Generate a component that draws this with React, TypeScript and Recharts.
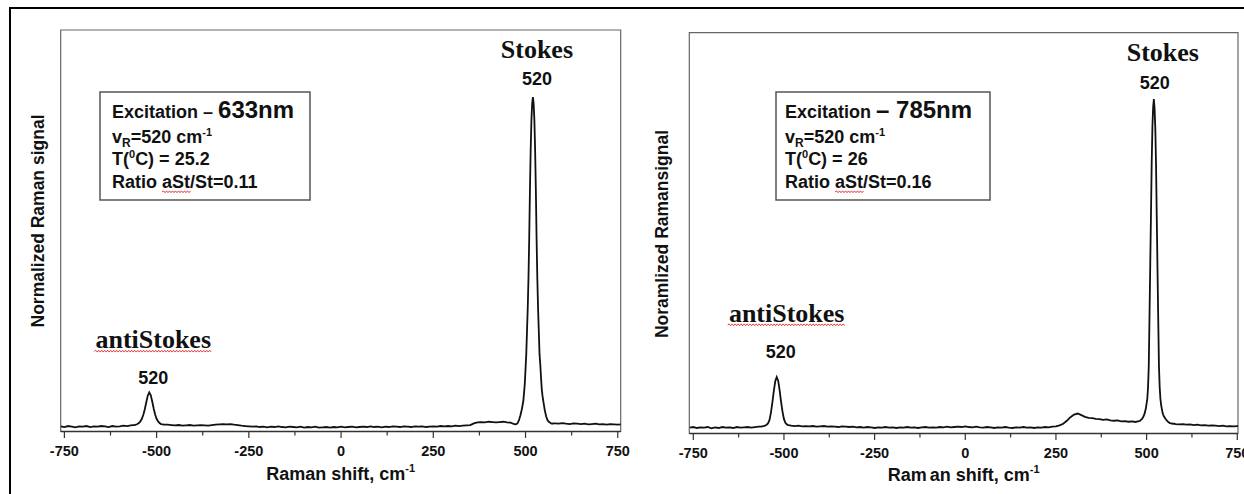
import { LineChart, Line, XAxis, YAxis, ReferenceArea, ReferenceDot } from 'recharts'

// Raman shift grid, cm-1 (denser around the two 520 lines)
const shiftCm = [
  -760, -750, -740, -730, -720, -710, -700, -690, -680, -670,
  -660, -650, -640, -630, -620, -610, -600, -590, -580, -570,
  -564, -560, -556, -552, -548, -544, -540, -536, -532, -528, -524,
  -520, -516, -512, -508, -504, -500, -496, -492, -488, -484, -480,
  -470, -460, -450, -440, -430, -420, -410, -400, -390, -380,
  -370, -360, -350, -340, -330, -320, -310, -300, -290, -280,
  -270, -260, -250, -240, -230, -220, -210, -200, -190, -180,
  -170, -160, -150, -140, -130, -120, -110, -100, -90, -80,
  -70, -60, -50, -40, -30, -20, -10, 0, 10, 20,
  30, 40, 50, 60, 70, 80, 90, 100, 110, 120,
  130, 140, 150, 160, 170, 180, 190, 200, 210, 220,
  230, 240, 250, 260, 270, 280, 290, 300, 310, 320,
  330, 340, 350, 360, 370, 380, 390, 400, 410, 420,
  430, 440, 450, 460,
  466, 470, 474, 478, 482, 486, 490, 494, 498, 502,
  504, 506, 508, 510, 512, 514, 516, 518, 520, 522,
  524, 526, 528, 530, 532, 534, 536, 538, 540, 542,
  544, 546, 548, 552, 556, 560, 564, 568, 572, 576,
  580, 590, 600, 610, 620, 630, 640, 650, 660, 670,
  680, 690, 700, 710, 720, 730, 740, 750, 760,
]

// normalized signal, 633 nm excitation
const signal633 = [
  0.002, 0.000, 0.003, 0.001, -0.001, 0.002, 0.001, 0.003, 0.000, 0.002,
  0.001, 0.003, 0.002, 0.000, 0.003, 0.001, 0.002, 0.004, 0.003, 0.005,
  0.006, 0.006, 0.007, 0.009, 0.012, 0.017, 0.025, 0.037, 0.054, 0.075, 0.095,
  0.105, 0.097, 0.078, 0.056, 0.038, 0.025, 0.017, 0.012, 0.009, 0.008, 0.007,
  0.007, 0.006, 0.005, 0.006, 0.004, 0.005, 0.006, 0.004, 0.005, 0.006,
  0.005, 0.004, 0.006, 0.007, 0.008, 0.009, 0.008, 0.009, 0.007, 0.006,
  0.004, 0.003, 0.002, 0.001, 0.002, 0.000, 0.001, -0.001, 0.001, 0.000,
  0.002, 0.000, -0.001, 0.001, 0.000, -0.001, 0.001, -0.002, 0.000, -0.001,
  0.001, -0.002, -0.001, 0.000, -0.002, 0.000, -0.001, 0.001, -0.001, 0.000,
  0.001, -0.001, 0.000, 0.001, 0.000, 0.002, 0.000, 0.001, -0.001, 0.001,
  0.000, 0.002, 0.001, 0.000, 0.002, 0.001, 0.000, 0.002, 0.001, 0.002,
  0.000, 0.001, 0.002, 0.001, 0.003, 0.002, 0.003, 0.002, 0.004, 0.003,
  0.004, 0.005, 0.006, 0.011, 0.014, 0.015, 0.014, 0.016, 0.015, 0.014,
  0.015, 0.016, 0.014, 0.013,
  0.010, 0.009, 0.008, 0.011, 0.020, 0.035, 0.054, 0.078, 0.130, 0.220,
  0.290, 0.360, 0.450, 0.570, 0.720, 0.840, 0.930, 0.980, 1.000, 0.980,
  0.930, 0.840, 0.720, 0.570, 0.450, 0.360, 0.290, 0.220, 0.190, 0.150,
  0.115, 0.095, 0.080, 0.052, 0.032, 0.020, 0.015, 0.012, 0.010, 0.011,
  0.011, 0.010, 0.012, 0.010, 0.009, 0.011, 0.010, 0.009, 0.010, 0.008,
  0.009, 0.010, 0.008, 0.009, 0.007, 0.009, 0.008, 0.007, 0.008,
]

// normalized signal, 785 nm excitation
const signal785 = [
  0.001, 0.003, 0.000, 0.002, 0.001, 0.003, -0.001, 0.002, 0.000, 0.003,
  0.001, 0.002, 0.000, 0.003, 0.001, 0.002, 0.003, 0.001, 0.003, 0.004,
  0.004, 0.005, 0.006, 0.007, 0.010, 0.014, 0.024, 0.046, 0.077, 0.112, 0.142,
  0.155, 0.144, 0.115, 0.080, 0.050, 0.027, 0.016, 0.011, 0.009, 0.008, 0.007,
  0.006, 0.007, 0.005, 0.006, 0.005, 0.006, 0.004, 0.005, 0.006, 0.004,
  0.005, 0.004, 0.003, 0.005, 0.004, 0.003, 0.004, 0.002, 0.003, 0.001,
  0.003, 0.002, 0.000, 0.002, 0.001, 0.003, 0.001, 0.002, 0.000, 0.002,
  0.001, 0.003, 0.001, 0.002, 0.000, 0.002, 0.003, 0.001, 0.002, 0.001,
  0.003, 0.002, 0.004, 0.002, 0.003, 0.004, 0.003, 0.005, 0.003, 0.002,
  0.004, 0.002, 0.001, 0.003, 0.002, 0.000, 0.002, 0.001, 0.003, 0.001,
  0.000, 0.002, 0.001, 0.003, 0.001, 0.002, 0.000, 0.002, 0.001, 0.003,
  0.002, 0.004, 0.005, 0.008, 0.013, 0.022, 0.033, 0.041, 0.044, 0.039,
  0.034, 0.031, 0.030, 0.028, 0.027, 0.025, 0.026, 0.023, 0.022, 0.023,
  0.020, 0.021, 0.019, 0.020,
  0.019, 0.018, 0.020, 0.020, 0.022, 0.026, 0.032, 0.042, 0.060, 0.090,
  0.125, 0.190, 0.340, 0.495, 0.645, 0.805, 0.915, 0.975, 1.000, 0.970,
  0.910, 0.800, 0.640, 0.485, 0.335, 0.190, 0.125, 0.090, 0.070, 0.058,
  0.046, 0.040, 0.035, 0.028, 0.022, 0.018, 0.015, 0.014, 0.013, 0.013,
  0.012, 0.011, 0.012, 0.010, 0.011, 0.009, 0.010, 0.008, 0.009, 0.007,
  0.008, 0.007, 0.006, 0.007, 0.005, 0.006, 0.005, 0.006, 0.005,
]

const xTicks = [-750, -625, -500, -375, -250, -125, 0, 125, 250, 375, 500, 625, 750]
const stokesShift = 520
const antiStokesShift = -520

const SANS = '"Liberation Sans", Arial, Helvetica, sans-serif'
const SERIF = '"Liberation Serif", "Times New Roman", serif'
const INK = '#111'

function AxisTick(props: any) {
  const { x, y, payload } = props
  const major = payload.value % 250 === 0
  return (
    <g>
      <line x1={x} x2={x} y1={y} y2={y + (major ? 6.5 : 4)} stroke="#333" strokeWidth={1.2} />
      {major && (
        <text x={x} y={y + 24} textAnchor="middle" fontFamily={SANS} fontWeight="bold" fontSize={14.5} fill={INK}>
          {payload.value}
        </text>
      )}
    </g>
  )
}

// spell-check style red wavy underline
function squiggle(x0: number, x1: number, y: number) {
  let d = `M${x0},${y}`
  let up = true
  for (let x = x0 + 1.5; x <= x1; x += 1.5) {
    d += ` L${x.toFixed(1)},${up ? y - 1.1 : y + 0.7}`
    up = !up
  }
  return <path d={d} stroke="#e02525" strokeWidth={0.9} fill="none" />
}

type Note = { title: string; titleDx: number; titleDy: number; numDx: number; numDy: number; wavy?: boolean }

function peakShape(note: Note, label: string) {
  return (p: any) => {
    const tx = p.cx + note.titleDx
    const ty = p.cy + note.titleDy
    return (
      <g>
        <text x={tx} y={ty} textAnchor="middle" fontFamily={SERIF} fontWeight="bold" fontSize={26} fill={INK}>
          {note.title}
        </text>
        {note.wavy && squiggle(tx - 59, tx + 59, ty + 3)}
        <text x={p.cx + note.numDx} y={p.cy + note.numDy} textAnchor="middle" fontFamily={SANS} fontWeight="bold" fontSize={18} fill={INK}>
          {label}
        </text>
      </g>
    )
  }
}

interface SpectrumProps {
  left: number
  width: number
  margin: { top: number; right: number; bottom: number; left: number }
  xDomain: [number, number]
  yDomain: [number, number]
  values: number[]
  stokes: Note
  anti: Note
}

function Spectrum({ left, width, margin, xDomain, yDomain, values, stokes, anti }: SpectrumProps) {
  const data = shiftCm.map((x, i) => ({ x, y: values[i] }))
  const stokesY = values[shiftCm.indexOf(stokesShift)]
  const antiY = values[shiftCm.indexOf(antiStokesShift)]
  return (
    <div style={{ position: 'absolute', left, top: 0 }}>
      <LineChart width={width} height={494} data={data} margin={margin}>
        <XAxis
          dataKey="x"
          type="number"
          domain={xDomain}
          allowDataOverflow
          ticks={xTicks}
          interval={0}
          height={40}
          tickSize={0}
          tickMargin={0}
          tickLine={false}
          tick={AxisTick}
          axisLine={{ stroke: '#333', strokeWidth: 1.5 }}
        />
        <YAxis hide width={0} type="number" domain={yDomain} allowDataOverflow />
        <ReferenceArea x1={xDomain[0]} x2={xDomain[1]} y1={yDomain[0]} y2={yDomain[1]} fill="none" fillOpacity={0} stroke="#666" strokeWidth={1.2} />
        <Line type="linear" dataKey="y" stroke={INK} strokeWidth={1.8} dot={false} isAnimationActive={false} />
        <ReferenceDot x={stokesShift} y={stokesY} r={0} shape={peakShape(stokes, String(Math.abs(stokesShift)))} />
        <ReferenceDot x={antiStokesShift} y={antiY} r={0} shape={peakShape(anti, String(Math.abs(antiStokesShift)))} />
      </LineChart>
    </div>
  )
}

function InfoBox({ x, width, laser, ratio, temp, dashBig }: { x: number; width: number; laser: string; ratio: string; temp: string; dashBig?: boolean }) {
  const tx = x + (dashBig ? 9 : 12)
  const ratioX = tx + 50
  return (
    <g fontFamily={SANS} fontWeight="bold" fill={INK} fontSize={18}>
      <rect x={x} y={92} width={width} height={108} fill="#fff" stroke="#555" strokeWidth={1.5} />
      <text x={tx} y={118}>
        {dashBig ? (
          <>
            Excitation <tspan fontSize={24}>– {laser}</tspan>
          </>
        ) : (
          <>
            Excitation – <tspan fontSize={24}>{laser}</tspan>
          </>
        )}
      </text>
      <text x={tx} y={143}>
        v<tspan fontSize={12} dy={4}>R</tspan>
        <tspan dy={-4}>=520 cm</tspan>
        <tspan fontSize={11} dy={-7}>-1</tspan>
      </text>
      <text x={tx} y={165}>
        T(<tspan fontSize={11} dy={-7}>0</tspan>
        <tspan dy={7}>C) = {temp}</tspan>
      </text>
      <text x={tx} y={188}>Ratio aSt/St={ratio}</text>
      {squiggle(ratioX, ratioX + 29, 192)}
    </g>
  )
}

export default function App() {
  return (
    <div style={{ position: 'absolute', left: 0, top: 0, width: 1244, height: 494, background: '#fff', overflow: 'hidden' }}>
      <Spectrum
        left={0}
        width={640}
        margin={{ top: 30, right: 19.3, bottom: 22.5, left: 60.7 }}
        xDomain={[-760, 758]}
        yDomain={[-0.0136, 1.203]}
        values={signal633}
        stokes={{ title: 'Stokes', titleDx: 4, titleDy: -39, numDx: 4, numDy: -12 }}
        anti={{ title: 'antiStokes', titleDx: 4, titleDy: -44, numDx: 4, numDy: -8, wavy: true }}
      />
      <Spectrum
        left={620}
        width={624}
        margin={{ top: 32.7, right: 6, bottom: 20.5, left: 69.3 }}
        xDomain={[-761, 752]}
        yDomain={[-0.0167, 1.2015]}
        values={signal785}
        stokes={{ title: 'Stokes', titleDx: 9, titleDy: -37.5, numDx: 1, numDy: -10 }}
        anti={{ title: 'antiStokes', titleDx: 10, titleDy: -55, numDx: 4, numDy: -19, wavy: true }}
      />
      <svg width={1244} height={494} style={{ position: 'absolute', left: 0, top: 0, pointerEvents: 'none' }}>
        <path d="M10,494 V8 H1244" stroke="#000" strokeWidth={2} fill="none" />
        <InfoBox x={100} width={210} laser="633nm" temp="25.2" ratio="0.11" />
        <InfoBox x={776} width={214} laser="785nm" temp="26" ratio="0.16" dashBig />
        <g fontFamily={SANS} fontWeight="bold" fill={INK}>
          <text x={44} y={221} fontSize={17.5} textAnchor="middle" transform="rotate(-90 44 221)">
            Normalized Raman signal
          </text>
          <text x={668} y={234} fontSize={17.5} textAnchor="middle" transform="rotate(-90 668 234)">
            Noramlized Ramansignal
          </text>
          <text x={340.7} y={480} fontSize={18} textAnchor="middle">
            Raman shift, cm<tspan fontSize={11} dy={-8}>-1</tspan>
          </text>
          <text x={963.7} y={481} fontSize={18} textAnchor="middle">
            Ram<tspan dx={3}>an shift, cm</tspan>
            <tspan fontSize={11} dy={-8}>-1</tspan>
          </text>
        </g>
      </svg>
    </div>
  )
}
